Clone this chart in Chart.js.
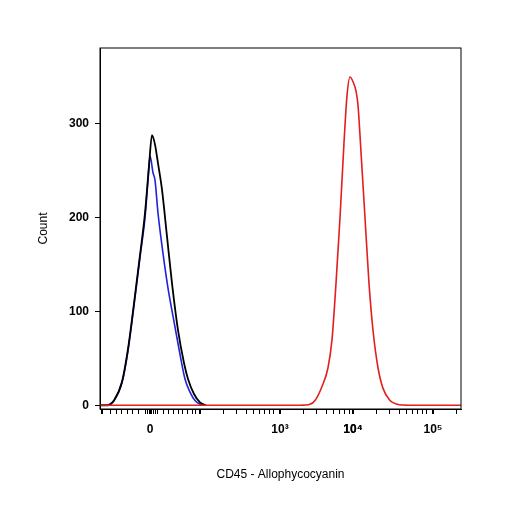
<!DOCTYPE html>
<html>
<head>
<script src="https://cdn.jsdelivr.net/npm/chart.js@4"></script>
<style>body{margin:0;background:#fff}#c{width:506px;height:506px}</style>
</head>
<body>
<div id="c"><canvas id="chart"></canvas></div>
<script>
// x is in display channel units (biexponential axis drawn linearly)
const blackX = [0, 8, 14, 22, 28, 33, 40, 45, 49, 52, 55, 58, 62, 67, 72, 78, 84, 88, 94, 100, 106];
const blackY = [0, 0, 5, 25, 60, 100, 160, 205, 255, 288, 278, 258, 230, 180, 130, 80, 45, 28, 12, 3, 0];
const blueX = [8, 14, 22, 28, 33, 40, 45, 48, 50, 53, 55, 58, 63, 68, 73, 79, 85, 90, 95, 102];
const blueY = [0, 5, 24, 58, 98, 158, 200, 240, 266, 248, 240, 205, 162, 125, 95, 60, 28, 14, 5, 0];
const redX = [0, 200, 210, 215, 222, 228, 232, 236, 240, 244, 247, 250, 253, 256, 258, 261, 265, 269, 273, 278, 283, 290, 297, 310, 361];
const redY = [0, 0, 1, 5, 20, 40, 70, 130, 200, 280, 330, 350, 345, 335, 320, 270, 200, 130, 80, 40, 18, 5, 1, 0, 0];
const xMajor = [2, 50, 100, 180, 253, 333];
const xLabels = {50: '0', 180: '10³', 253: '10⁴', 333: '10⁵'};
const yTicks = [0, 100, 200, 300];

const pts = (xs, ys) => xs.map((x, i) => ({x, y: ys[i]}));

const xMinor = [10, 16, 21, 27, 32, 38, 45, 47, 49, 51, 53, 55, 57, 63, 68, 73, 78, 82, 87, 92, 95];
[[100, 180], [180, 253], [253, 333], [333, 361]].forEach(([a, b]) => {
  for (let k = 2; k <= 9; k++) {
    const p = a + 76 * Math.log10(k);
    if (p < 361) xMinor.push(Math.round(p));
  }
});

const font = {family: 'Arial, Liberation Sans', size: 12};
const line = (xs, ys, color, w) => ({
  data: pts(xs, ys), borderColor: color, borderWidth: w,
  cubicInterpolationMode: 'monotone', pointRadius: 0
});

new Chart(document.getElementById('chart'), {
  type: 'line',
  data: {
    datasets: [
      line(redX, redY, '#e0201c', 1.6),
      line(blackX, blackY, '#000', 1.8),
      line(blueX, blueY, '#1f22d8', 1.6)
    ]
  },
  options: {
    responsive: true,
    maintainAspectRatio: false,
    animation: false,
    layout: {padding: {top: 48, right: 45, left: 32, bottom: 20}},
    plugins: {legend: {display: false}, tooltip: {enabled: false}},
    scales: {
      x: {
        type: 'linear', min: 0, max: 361,
        afterBuildTicks: s => {
          s.ticks = xMajor.concat(xMinor).map(v => ({value: v}));
        },
        afterFit: s => { s.height = 77; },
        ticks: {
          autoSkip: false, maxRotation: 0, color: '#000',
          font: {family: 'Arial, Liberation Sans', size: 12, weight: 'bold'},
          padding: 8,
          callback: v => xLabels[v] || ''
        },
        grid: {
          drawOnChartArea: false, tickLength: 5, color: '#000',
          lineWidth: c => (c.tick && xMajor.includes(c.tick.value)) ? 2 : 1
        },
        border: {color: '#000', width: 1},
        title: {display: true, text: 'CD45 - Allophycocyanin', color: '#000', font, padding: {top: 4}}
      },
      y: {
        min: -4, max: 381,
        afterBuildTicks: s => { s.ticks = yTicks.map(v => ({value: v})); },
        afterFit: s => { s.width = 68; },
        ticks: {color: '#000', font: {family: 'Arial, Liberation Sans', size: 12, weight: 'bold'}, padding: 6},
        grid: {drawOnChartArea: false, tickLength: 5, color: '#000'},
        border: {color: '#000', width: 1},
        title: {display: true, text: 'Count', color: '#000', font, padding: {bottom: 4}}
      }
    }
  },
  plugins: [{
    id: 'frame',
    afterDraw: c => {
      const a = c.chartArea, g = c.ctx;
      g.save(); g.strokeStyle = '#000'; g.lineWidth = 1;
      g.strokeRect(a.left, a.top, a.right - a.left, a.bottom - a.top);
      g.restore();
    }
  }]
});
</script>
</body>
</html>
